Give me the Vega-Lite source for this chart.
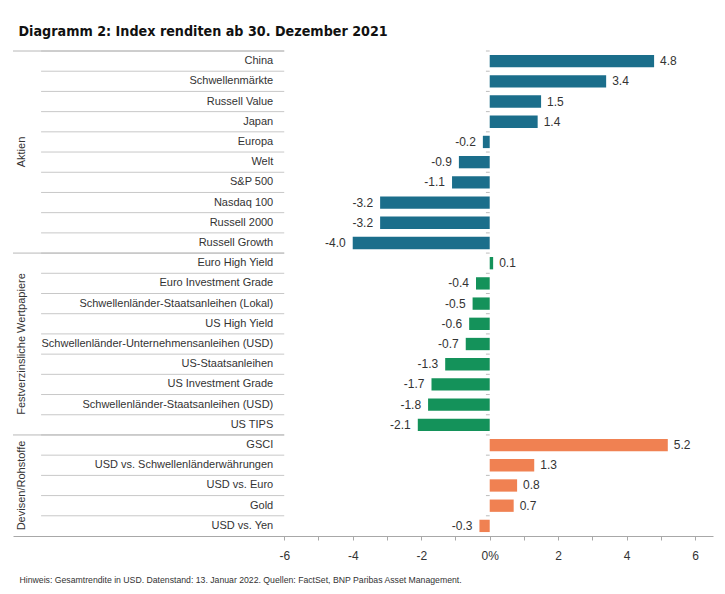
{
  "$schema": "https://vega.github.io/schema/vega-lite/v6.json",
  "width": 700,
  "height": 485,
  "padding": {"left": 12, "top": 25, "right": 5, "bottom": 5},
  "background": "white",
  "config": {
    "view": {"stroke": null},
    "font": "Liberation Sans, Arial, sans-serif",
    "text": {"font": "Liberation Sans, Arial, sans-serif"},
    "locale": {
      "number": {"decimal": ".", "thousands": ",", "grouping": [3], "currency": ["", ""], "minus": "-"}
    }
  },
  "title": {
    "text": "Diagramm 2: Index renditen ab 30. Dezember 2021",
    "anchor": "start",
    "dx": 6,
    "fontSize": 14.2,
    "fontWeight": "bold",
    "color": "#111111",
    "font": "DejaVu Sans Condensed, Liberation Sans, sans-serif",
    "offset": 11
  },
  "datasets": {
    "rows": [
      {"cat": "China", "group": "Aktien", "value": 4.8},
      {"cat": "Schwellenmärkte", "group": "Aktien", "value": 3.4},
      {"cat": "Russell Value", "group": "Aktien", "value": 1.5},
      {"cat": "Japan", "group": "Aktien", "value": 1.4},
      {"cat": "Europa", "group": "Aktien", "value": -0.2},
      {"cat": "Welt", "group": "Aktien", "value": -0.9},
      {"cat": "S&P 500", "group": "Aktien", "value": -1.1},
      {"cat": "Nasdaq 100", "group": "Aktien", "value": -3.2},
      {"cat": "Russell 2000", "group": "Aktien", "value": -3.2},
      {"cat": "Russell Growth", "group": "Aktien", "value": -4.0},
      {"cat": "Euro High Yield", "group": "Festverzinsliche Wertpapiere", "value": 0.1},
      {"cat": "Euro Investment Grade", "group": "Festverzinsliche Wertpapiere", "value": -0.4},
      {"cat": "Schwellenländer-Staatsanleihen (Lokal)", "group": "Festverzinsliche Wertpapiere", "value": -0.5},
      {"cat": "US High Yield", "group": "Festverzinsliche Wertpapiere", "value": -0.6},
      {"cat": "Schwellenländer-Unternehmensanleihen (USD)", "group": "Festverzinsliche Wertpapiere", "value": -0.7},
      {"cat": "US-Staatsanleihen", "group": "Festverzinsliche Wertpapiere", "value": -1.3},
      {"cat": "US Investment Grade", "group": "Festverzinsliche Wertpapiere", "value": -1.7},
      {"cat": "Schwellenländer-Staatsanleihen (USD)", "group": "Festverzinsliche Wertpapiere", "value": -1.8},
      {"cat": "US TIPS", "group": "Festverzinsliche Wertpapiere", "value": -2.1},
      {"cat": "GSCI", "group": "Devisen/Rohstoffe", "value": 5.2},
      {"cat": "USD vs. Schwellenländerwährungen", "group": "Devisen/Rohstoffe", "value": 1.3},
      {"cat": "USD vs. Euro", "group": "Devisen/Rohstoffe", "value": 0.8},
      {"cat": "Gold", "group": "Devisen/Rohstoffe", "value": 0.7},
      {"cat": "USD vs. Yen", "group": "Devisen/Rohstoffe", "value": -0.3}
    ],
    "groups": [
      {"group": "Aktien", "anchor": "Welt", "edge": true},
      {"group": "Festverzinsliche Wertpapiere", "anchor": "Schwellenländer-Unternehmensanleihen (USD)", "edge": false},
      {"group": "Devisen/Rohstoffe", "anchor": "USD vs. Euro", "edge": false}
    ]
  },
  "data": {"name": "rows"},
  "encoding": {
    "y": {
      "field": "cat",
      "type": "nominal",
      "sort": null,
      "scale": {"paddingInner": 0, "paddingOuter": 0},
      "axis": null
    }
  },
  "layer": [
    {
      "mark": {"type": "rule", "color": "#c8c8c8", "strokeWidth": 1},
      "encoding": {
        "y": {"field": "cat", "type": "nominal", "sort": null, "bandPosition": 0},
        "x": {"datum": -13.1},
        "x2": {"datum": -6}
      }
    },
    {
      "transform": [{"filter": {"field": "cat", "oneOf": ["China", "Euro High Yield", "GSCI"]}}],
      "mark": {"type": "rule", "color": "#b8b8b8", "strokeWidth": 1},
      "encoding": {
        "y": {"field": "cat", "type": "nominal", "sort": null, "bandPosition": 0},
        "x": {"datum": -13.92},
        "x2": {"datum": -6}
      }
    },
    {
      "mark": {"type": "rule", "color": "#bdbdbd", "strokeWidth": 1},
      "encoding": {
        "y": {"field": "cat", "type": "nominal", "sort": null, "bandPosition": 0},
        "x": {"datum": -0.11},
        "x2": {"datum": 0}
      }
    },
    {
      "mark": {"type": "bar", "height": {"band": 0.61}},
      "encoding": {
        "x": {
          "field": "value",
          "type": "quantitative",
          "scale": {"domain": [-13.92, 6.52], "nice": false, "zero": false},
          "axis": {
            "values": [-6, -5, -4, -3, -2, -1, 0, 1, 2, 3, 4, 5, 6],
            "labelExpr": "datum.value % 2 != 0 ? '' : (datum.value == 0 ? '0%' : format(datum.value, 'd'))",
            "grid": false,
            "domainColor": "#a8a8a8",
            "tickColor": "#a8a8a8",
            "tickSize": 4,
            "labelPadding": 10,
            "labelFontSize": 12,
            "labelColor": "#333333",
            "title": "Hinweis: Gesamtrendite in USD. Datenstand: 13. Januar 2022. Quellen: FactSet, BNP Paribas Asset Management.",
            "titleAnchor": "start",
            "titleAlign": "left",
            "titleX": 6,
            "titlePadding": 14,
            "titleFontSize": 8.7,
            "titleFontWeight": "normal",
            "titleColor": "#333333"
          }
        },
        "color": {
          "field": "group",
          "type": "nominal",
          "scale": {
            "domain": ["Aktien", "Festverzinsliche Wertpapiere", "Devisen/Rohstoffe"],
            "range": ["#1b6e8b", "#14925a", "#f08152"]
          },
          "legend": null
        }
      }
    },
    {
      "mark": {"type": "rule", "color": "#bdbdbd", "strokeWidth": 1},
      "encoding": {"x": {"datum": 0}}
    },
    {
      "transform": [{"filter": "datum.value >= 0"}],
      "mark": {"type": "text", "align": "left", "dx": 6, "fontSize": 12, "color": "#333333"},
      "encoding": {
        "x": {"field": "value", "type": "quantitative"},
        "text": {"field": "value", "type": "quantitative", "format": ".1f"}
      }
    },
    {
      "transform": [{"filter": "datum.value < 0"}],
      "mark": {"type": "text", "align": "right", "dx": -7, "fontSize": 12, "color": "#333333"},
      "encoding": {
        "x": {"field": "value", "type": "quantitative"},
        "text": {"field": "value", "type": "quantitative", "format": ".1f"}
      }
    },
    {
      "mark": {"type": "text", "align": "right", "dx": -11, "fontSize": 11, "color": "#333333"},
      "encoding": {
        "x": {"datum": -6},
        "text": {"field": "cat"}
      }
    },
    {
      "data": {"name": "groups"},
      "transform": [{"filter": "datum.edge"}],
      "mark": {"type": "text", "angle": 270, "align": "center", "baseline": "middle", "fontSize": 11, "color": "#333333"},
      "encoding": {
        "x": {"datum": -13.65},
        "y": {"field": "anchor", "type": "nominal", "sort": null, "bandPosition": 0},
        "text": {"field": "group"}
      }
    },
    {
      "data": {"name": "groups"},
      "transform": [{"filter": "!datum.edge"}],
      "mark": {"type": "text", "angle": 270, "align": "center", "baseline": "middle", "fontSize": 11, "color": "#333333"},
      "encoding": {
        "x": {"datum": -13.65},
        "y": {"field": "anchor", "type": "nominal", "sort": null},
        "text": {"field": "group"}
      }
    }
  ]
}
